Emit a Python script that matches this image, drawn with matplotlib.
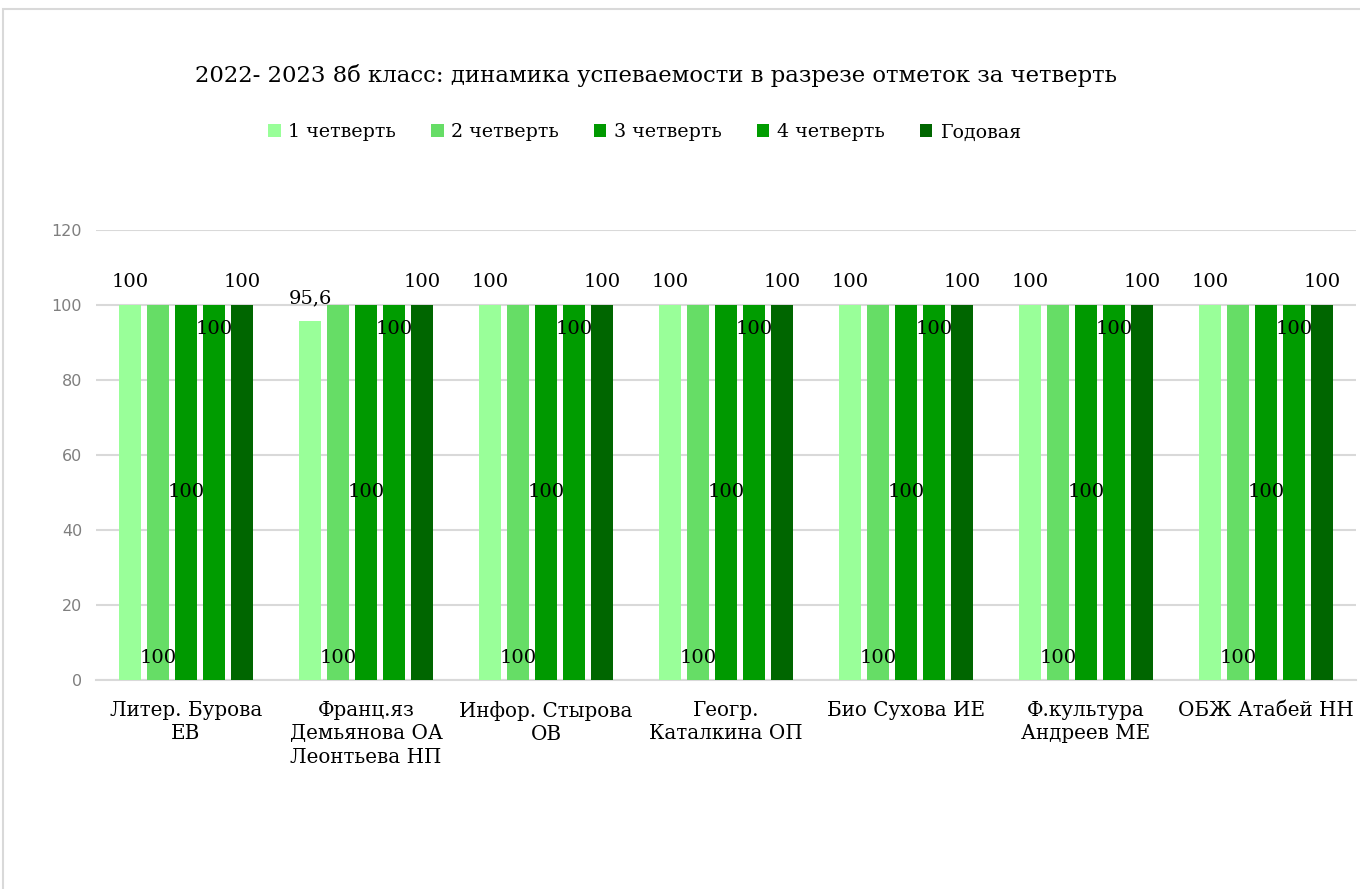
import numpy as np
import matplotlib.pyplot as plt
from matplotlib.patches import Rectangle

plt.rcParams['font.family'] = ['DejaVu Serif']

# data
subjects = ["Литер. Бурова\nЕВ", "Франц.яз\nДемьянова ОА\nЛеонтьева НП",
            "Инфор. Стырова\nОВ", "Геогр.\nКаталкина ОП", "Био Сухова ИЕ",
            "Ф.культура\nАндреев МЕ", "ОБЖ Атабей НН"]
series_names = ["1 четверть", "2 четверть", "3 четверть", "4 четверть", "Годовая"]
q1 = [100, 95.6, 100, 100, 100, 100, 100]
q2 = [100, 100, 100, 100, 100, 100, 100]
q3 = [100, 100, 100, 100, 100, 100, 100]
q4 = [100, 100, 100, 100, 100, 100, 100]
year = [100, 100, 100, 100, 100, 100, 100]
colors = ["#99FF99", "#66DD66", "#009900", "#009C00", "#006600"]

all_series = [q1, q2, q3, q4, year]

fig = plt.figure(figsize=(13.6, 8.89), dpi=100)
ax = fig.add_axes([0.0706, 0.2351, 0.9264, 0.5062])

# outer chart frame (cropped on right/bottom)
fig.patches.append(Rectangle((0.0025, -0.1), 1.1, 1.09, transform=fig.transFigure,
                             fill=False, edgecolor="#d9d9d9", linewidth=1.5))

x = np.arange(len(subjects))
step = 0.1556
width = 0.122
lbl = 14

for j, (vals, name, c) in enumerate(zip(all_series, series_names, colors)):
    pos = x + (j - 2) * step
    ax.bar(pos, vals, width, color=c, label=name, zorder=3)
    for p, v in zip(pos, vals):
        txt = ("%g" % v).replace(".", ",")
        if j in (0, 4):
            ax.annotate(txt, (p, v), xytext=(0, 10), textcoords="offset points",
                        ha="center", va="bottom", fontsize=lbl, zorder=5)
        elif j == 1:
            ax.annotate(txt, (p, 0), xytext=(0, 9), textcoords="offset points",
                        ha="center", va="bottom", fontsize=lbl, zorder=5)
        elif j == 2:
            ax.text(p, v / 2, txt, ha="center", va="center", fontsize=lbl, zorder=5)
        else:
            ax.annotate(txt, (p, v), xytext=(0, -11), textcoords="offset points",
                        ha="center", va="top", fontsize=lbl, zorder=5)

ax.set_xlim(-0.5, len(subjects) - 0.5)
ax.set_ylim(0, 120)
ax.set_yticks(np.arange(0, 121, 20))
ax.yaxis.grid(True, color="#d9d9d9", linewidth=1.5, zorder=0)
ax.set_axisbelow(True)
for s in ["top", "right", "left"]:
    ax.spines[s].set_visible(False)
ax.spines["bottom"].set_color("#d9d9d9")
ax.spines["bottom"].set_linewidth(1.5)
ax.tick_params(axis="both", length=0)
ax.tick_params(axis="y", labelcolor="#7f7f7f", labelsize=11.5, pad=10)
for t in ax.get_yticklabels():
    t.set_fontfamily("DejaVu Sans")
ax.set_xticks(x)
ax.set_xticklabels(subjects, fontsize=14.3, linespacing=1.3)
ax.tick_params(axis="x", pad=15)

fig.text(0.482, 0.915, "2022- 2023 8б класс: динамика успеваемости в разрезе отметок за четверть",
         ha="center", va="center", fontsize=16.4)

fig.legend(loc="center", bbox_to_anchor=(0.474, 0.851), ncol=5, frameon=False,
           fontsize=13.7, handlelength=0.65, handleheight=0.65, handletextpad=0.4,
           columnspacing=1.85)

fig.savefig("out.png", dpi=100)
